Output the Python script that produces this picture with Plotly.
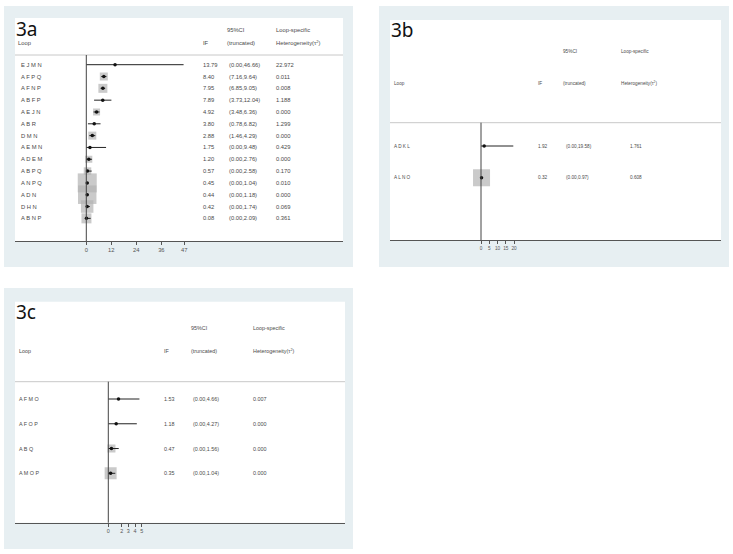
import plotly.graph_objects as go

W, H = 733, 554

# ---------------- data ----------------
# Panel 3a
loops_a = ["E J M N", "A F P Q", "A F N P", "A B F P", "A E J N", "A B R", "D M N",
           "A E M N", "A D E M", "A B P Q", "A N P Q", "A D N", "D H N", "A B N P"]
if_a = [13.79, 8.40, 7.95, 7.89, 4.92, 3.80, 2.88, 1.75, 1.20, 0.57, 0.45, 0.44, 0.42, 0.08]
lo_a = [0.00, 7.16, 6.85, 3.73, 3.48, 0.78, 1.46, 0.00, 0.00, 0.00, 0.00, 0.00, 0.00, 0.00]
hi_a = [46.66, 9.64, 9.05, 12.04, 6.36, 6.82, 4.29, 9.48, 2.76, 2.58, 1.04, 1.18, 1.74, 2.09]
het_a = ["22.972", "0.011", "0.008", "1.188", "0.000", "1.299", "0.000", "0.429",
         "0.000", "0.170", "0.010", "0.000", "0.069", "0.361"]
weight_a = [0.5, 8, 9, 1.5, 7, 2.5, 8, 0.5, 7, 7.5, 19, 18.5, 12.5, 10]
ticks_a = [0, 12, 24, 36, 47]

# Panel 3b
loops_b = ["A D K L", "A L N O"]
if_b = [1.92, 0.32]
lo_b = [0.00, 0.00]
hi_b = [19.58, 0.97]
het_b = ["1.761", "0.608"]
weight_b = [0.5, 17]
ticks_b = [0, 5, 10, 15, 20]

# Panel 3c
loops_c = ["A F M O", "A F O P", "A B Q", "A M O P"]
if_c = [1.53, 1.18, 0.47, 0.35]
lo_c = [0.00, 0.00, 0.00, 0.00]
hi_c = [4.66, 4.27, 1.56, 1.04]
het_c = ["0.007", "0.000", "0.000", "0.000"]
weight_c = [0.5, 0.5, 8, 12]
ticks_c = [0, 2, 3, 4, 5]

# ---------------- helpers ----------------
def px(x):
    return x / W

def py(y):
    return 1 - y / H

TXT = "#4a4a4a"
FONT = "Liberation Sans"
PANEL_BG = "#e7eff2"
SQ = "#b3b3b3"

fig = go.Figure()
shapes = []
annotations = []


def fmt_ci(l, h):
    return "(%.2f,%.2f)" % (l, h)


def panel(idx, label, loops, ifs, los, his, hets, weights, ticks,
          outer, white, dom_x, zero_px, unit_px, top_px, row0_px, row_step,
          label_xy, hdr, cols, fs, hdr_fs):
    sfx = "" if idx == 1 else str(idx)
    xa, ya = "x" + sfx, "y" + sfx
    n = len(loops)
    rows = list(range(n))

    # backgrounds
    shapes.append(dict(type="rect", xref="paper", yref="paper", layer="below",
                       x0=px(outer[0]), x1=px(outer[1]), y0=py(outer[3]), y1=py(outer[2]),
                       fillcolor=PANEL_BG, line=dict(width=0)))
    shapes.append(dict(type="rect", xref="paper", yref="paper", layer="below",
                       x0=px(white[0]), x1=px(white[1]), y0=py(white[3]), y1=py(white[2]),
                       fillcolor="white", line=dict(width=0)))
    # header separator
    shapes.append(dict(type="line", xref="paper", yref="paper", layer="above",
                       x0=px(white[0]), x1=px(white[1]), y0=py(top_px), y1=py(top_px),
                       line=dict(color="#c8c8c8", width=1)))
    # zero line
    shapes.append(dict(type="line", xref=xa, yref=ya + " domain", layer="above",
                       x0=0, x1=0, y0=0, y1=1, line=dict(color="#444444", width=1)))

    # axes
    left = -(zero_px - dom_x[0]) / unit_px
    right = (dom_x[1] - zero_px) / unit_px
    bottom_px = white[3]
    ytop = -(row0_px - top_px) / row_step
    ybot = (bottom_px - row0_px) / row_step
    xkey = "xaxis" + sfx
    ykey = "yaxis" + sfx
    fig.layout[xkey] = dict(domain=[px(dom_x[0]), px(dom_x[1])], range=[left, right],
                            anchor=ya, showgrid=False, zeroline=False, showline=True,
                            linecolor="#555555", linewidth=1, ticks="outside", ticklen=3,
                            tickcolor="#555555", tickwidth=1, tickvals=ticks,
                            ticktext=[str(t) for t in ticks],
                            tickfont=dict(size=fs, color="#555555", family=FONT),
                            fixedrange=True)
    fig.layout[ykey] = dict(domain=[py(bottom_px), py(top_px)], range=[ybot, ytop],
                            anchor=xa, visible=False, showgrid=False, zeroline=False,
                            fixedrange=True)

    # squares
    fig.add_trace(go.Scatter(x=ifs, y=rows, xaxis=xa, yaxis=ya, mode="markers",
                             marker=dict(symbol="square", size=weights, color=SQ,
                                         line=dict(width=0)),
                             hoverinfo="skip", showlegend=False))
    # CI lines and point estimates
    fig.add_trace(go.Scatter(x=ifs, y=rows, xaxis=xa, yaxis=ya, mode="markers",
                             marker=dict(symbol="circle", size=3.5, color="#111111"),
                             error_x=dict(type="data", symmetric=False,
                                          array=[h - v for h, v in zip(his, ifs)],
                                          arrayminus=[v - l for v, l in zip(ifs, los)],
                                          width=0, thickness=1, color="#222222"),
                             showlegend=False))

    def ann(x, y, s, size, yref="paper", family=FONT, color=TXT):
        annotations.append(dict(x=px(x), y=(py(y) if yref == "paper" else y),
                                xref="paper", yref=yref, text=s, showarrow=False,
                                xanchor="left", yanchor="middle", borderpad=0,
                                font=dict(size=size, color=color, family=family)))

    # panel label
    ann(label_xy[0], label_xy[1], label, 19, family="Noto Sans", color="#111111")
    # header
    (hx_loop, hx_if, hx_ci, hx_het, hy1, hy2) = hdr
    ann(hx_loop, hy2, "Loop", hdr_fs)
    ann(hx_if, hy2, "IF", hdr_fs)
    ann(hx_ci, hy1, "95%CI", hdr_fs)
    ann(hx_ci, hy2, "(truncated)", hdr_fs)
    ann(hx_het, hy1, "Loop-specific", hdr_fs)
    ann(hx_het, hy2, "Heterogeneity(τ<sup>2</sup>)", hdr_fs)
    # rows
    (cx_loop, cx_if, cx_ci, cx_het) = cols
    for i in range(n):
        ann(cx_loop, i, loops[i], fs, yref=ya)
        ann(cx_if, i, "%.2f" % ifs[i], fs, yref=ya)
        ann(cx_ci, i, fmt_ci(los[i], his[i]), fs, yref=ya)
        ann(cx_het, i, hets[i], fs, yref=ya)


panel(1, "3a", loops_a, if_a, lo_a, hi_a, het_a, weight_a, ticks_a,
      outer=(4, 353, 6, 267), white=(15, 343, 18, 241), dom_x=(15, 343),
      zero_px=86.3, unit_px=98 / 47, top_px=55, row0_px=64.7, row_step=11.82,
      label_xy=(15, 29.5), hdr=(17, 201.5, 225.5, 274.5, 30, 43),
      cols=(20, 202, 227.5, 275), fs=5.8, hdr_fs=5.8)

panel(2, "3b", loops_b, if_b, lo_b, hi_b, het_b, weight_b, ticks_b,
      outer=(379, 729, 6, 267), white=(390, 721, 20, 240), dom_x=(390, 721),
      zero_px=481, unit_px=1.65, top_px=122.7, row0_px=146, row_step=31.7,
      label_xy=(390, 30), hdr=(393, 536.5, 561.5, 620, 51.7, 83.3),
      cols=(393, 536.5, 564.5, 629), fs=4.7, hdr_fs=4.7)

panel(3, "3c", loops_c, if_c, lo_c, hi_c, het_c, weight_c, ticks_c,
      outer=(4, 353, 288, 549), white=(15, 345, 301.7, 522.7), dom_x=(15, 345),
      zero_px=108.3, unit_px=6.68, top_px=381.7, row0_px=399, row_step=24.77,
      label_xy=(15, 312), hdr=(18, 162.5, 190, 251.5, 327.7, 351),
      cols=(18, 163, 192, 252), fs=5.4, hdr_fs=5.4)

fig.update_layout(width=W, height=H, margin=dict(l=0, r=0, t=0, b=0),
                  paper_bgcolor="white", plot_bgcolor="rgba(0,0,0,0)",
                  shapes=shapes, annotations=annotations, showlegend=False,
                  hovermode=False)

fig.write_html("out.html", config={"displayModeBar": False},
               post_script="document.body.style.margin='0';document.body.style.padding='0';")
